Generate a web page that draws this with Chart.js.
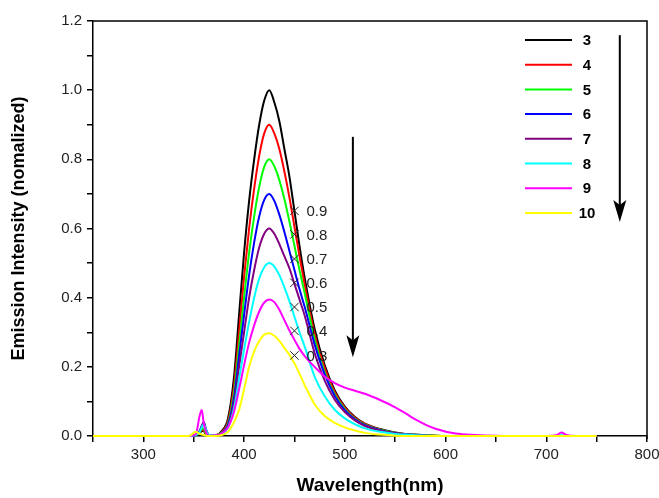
<!DOCTYPE html>
<html>
<head>
    <meta charset="UTF-8">
    <script src="https://cdn.jsdelivr.net/npm/chart.js@4.4.0/dist/chart.umd.min.js"></script>
    <style>
        body { margin: 0; background: #fff; }
    </style>
    <title>Emission spectra</title>
</head>
<body>
    <canvas id="spectra" width="659" height="498"></canvas>

    <script>
        // wavelength grid (nm) shared by every spectrum
        const wavelengths = [250, 345, 352, 356, 358, 360, 362, 365, 372, 378, 384, 390, 395, 400, 405, 410, 415, 420, 425,
            430, 435, 440, 445, 450, 455, 460, 470, 480, 490, 500, 510, 520, 535, 550, 560, 570, 580, 590, 610, 630, 650,
            700, 710, 715, 720, 730, 750];

        const s3 = [0, 0, 0.002, 0.008, 0.015, 0.014, 0.006, 0.001, 0.002, 0.015, 0.05, 0.17, 0.35, 0.53, 0.68, 0.80, 0.90, 0.97, 1.0,
            0.965, 0.91, 0.83, 0.75, 0.65, 0.55, 0.46, 0.31, 0.205, 0.132, 0.085, 0.055, 0.036, 0.02, 0.01, 0.006, 0.004, 0.002, 0.001, 0, 0, 0,
            0, 0, 0, 0, 0, 0];
        const s4 = [0, 0, 0.002, 0.01, 0.018, 0.016, 0.007, 0.001, 0.002, 0.012, 0.042, 0.145, 0.30, 0.46, 0.60, 0.715, 0.81, 0.875, 0.9,
            0.875, 0.83, 0.765, 0.69, 0.605, 0.52, 0.44, 0.295, 0.197, 0.127, 0.082, 0.053, 0.035, 0.019, 0.009, 0.006, 0.003, 0.002, 0.001, 0, 0, 0,
            0, 0, 0, 0, 0, 0];
        const s5 = [0, 0, 0.002, 0.012, 0.022, 0.02, 0.008, 0.001, 0.002, 0.01, 0.036, 0.125, 0.26, 0.40, 0.53, 0.635, 0.72, 0.778, 0.8,
            0.78, 0.74, 0.685, 0.62, 0.55, 0.48, 0.415, 0.28, 0.184, 0.12, 0.078, 0.05, 0.033, 0.018, 0.009, 0.005, 0.003, 0.002, 0.001, 0, 0, 0,
            0, 0, 0, 0, 0, 0];
        const s6 = [0, 0, 0.003, 0.015, 0.03, 0.04, 0.02, 0.003, 0.002, 0.009, 0.032, 0.11, 0.23, 0.35, 0.465, 0.56, 0.635, 0.683, 0.7,
            0.68, 0.64, 0.59, 0.535, 0.48, 0.425, 0.375, 0.265, 0.178, 0.116, 0.075, 0.048, 0.031, 0.017, 0.008, 0.005, 0.003, 0.001, 0, 0, 0, 0,
            0, 0, 0, 0, 0, 0];
        const s7 = [0, 0, 0.003, 0.014, 0.028, 0.038, 0.02, 0.003, 0.002, 0.008, 0.028, 0.095, 0.2, 0.3, 0.4, 0.48, 0.545, 0.585, 0.6,
            0.585, 0.555, 0.52, 0.485, 0.44, 0.395, 0.35, 0.24, 0.16, 0.105, 0.069, 0.045, 0.029, 0.016, 0.008, 0.004, 0.002, 0.001, 0, 0, 0, 0,
            0, 0, 0, 0, 0, 0];
        const s8 = [0, 0, 0.003, 0.012, 0.025, 0.035, 0.018, 0.003, 0.002, 0.007, 0.024, 0.08, 0.165, 0.25, 0.33, 0.4, 0.455, 0.488, 0.5,
            0.49, 0.465, 0.43, 0.39, 0.345, 0.3, 0.26, 0.172, 0.115, 0.076, 0.051, 0.034, 0.022, 0.012, 0.006, 0.004, 0.002, 0.001, 0, 0, 0, 0,
            0, 0, 0.003, 0, 0, 0];
        const s9 = [0, 0, 0.005, 0.06, 0.075, 0.035, 0.012, 0.001, 0.002, 0.008, 0.025, 0.07, 0.135, 0.205, 0.27, 0.32, 0.36, 0.386, 0.395,
            0.387, 0.365, 0.335, 0.305, 0.278, 0.252, 0.232, 0.2, 0.172, 0.153, 0.14, 0.131, 0.122, 0.104, 0.083, 0.066, 0.048, 0.033, 0.021, 0.007, 0.003, 0.001,
            0, 0.002, 0.01, 0.003, 0, 0];
        const s10 = [0, 0, 0.012, 0.006, 0.004, 0.003, 0.001, 0, 0, 0.003, 0.012, 0.04, 0.075, 0.135, 0.2, 0.245, 0.275, 0.293, 0.297,
            0.29, 0.275, 0.255, 0.235, 0.21, 0.18, 0.148, 0.092, 0.058, 0.038, 0.025, 0.016, 0.009, 0.004, 0.001, 0, 0, 0, 0, 0, 0, 0,
            0, 0, 0, 0, 0, 0];

        const seriesNames = ['3', '4', '5', '6', '7', '8', '9', '10'];
        const seriesValues = [s3, s4, s5, s6, s7, s8, s9, s10];
        const seriesColors = ['#000000', '#ff0000', '#00ff00', '#0000ff', '#800080', '#00ffff', '#ff00ff', '#ffff00'];

        // the "x" marks with their labels
        const markerX = [450, 450, 450, 450, 450, 450, 450];
        const markerY = [0.651, 0.583, 0.512, 0.443, 0.373, 0.304, 0.233];
        const markerLabels = ['0.9', '0.8', '0.7', '0.6', '0.5', '0.4', '0.3'];

        // arrows (data coordinates): one in the plot, one next to the legend
        const arrowX = [508, 773];
        const arrowFrom = [0.865, 1.159];
        const arrowTo = [0.228, 0.619];

        const FONT = 'Arial, "Liberation Sans", sans-serif';

        const datasets = seriesValues.map((vals, i) => ({
            label: seriesNames[i],
            data: wavelengths.map((w, j) => ({ x: w, y: vals[j] })),
            borderColor: seriesColors[i],
            borderWidth: 2,
            pointRadius: 0,
            fill: false,
            clip: 4,
            cubicInterpolationMode: 'monotone',
            order: seriesValues.length - i
        }));

        datasets.push({
            label: 'marks',
            data: markerX.map((x, i) => ({ x: x, y: markerY[i] })),
            showLine: false,
            pointStyle: 'crossRot',
            pointRadius: 6,
            borderWidth: 1,
            borderColor: '#222',
            order: -1
        });

        const extras = {
            id: 'extras',
            afterDatasetsDraw(chart) {
                const { ctx, chartArea, scales } = chart;
                ctx.save();

                // frame (top & right)
                ctx.strokeStyle = '#000';
                ctx.lineWidth = 1.5;
                ctx.beginPath();
                ctx.moveTo(chartArea.left, chartArea.top);
                ctx.lineTo(chartArea.right, chartArea.top);
                ctx.lineTo(chartArea.right, chartArea.bottom + 3);
                ctx.stroke();

                // marker labels
                const meta = chart.getDatasetMeta(chart.data.datasets.length - 1);
                ctx.fillStyle = '#222';
                ctx.font = '15px ' + FONT;
                ctx.textAlign = 'left';
                ctx.textBaseline = 'middle';
                meta.data.forEach((pt, i) => {
                    ctx.fillText(markerLabels[i], pt.x + 12, pt.y + 1);
                });

                // arrows
                ctx.fillStyle = '#000';
                ctx.strokeStyle = '#000';
                ctx.lineWidth = 2;
                arrowX.forEach((ax, i) => {
                    const x = scales.x.getPixelForValue(ax);
                    const y1 = scales.y.getPixelForValue(arrowFrom[i]);
                    const y2 = scales.y.getPixelForValue(arrowTo[i]);
                    ctx.beginPath();
                    ctx.moveTo(x, y1);
                    ctx.lineTo(x, y2 - 15);
                    ctx.stroke();
                    ctx.beginPath();
                    ctx.moveTo(x, y2);
                    ctx.lineTo(x - 6.5, y2 - 22);
                    ctx.lineTo(x, y2 - 17);
                    ctx.lineTo(x + 6.5, y2 - 22);
                    ctx.closePath();
                    ctx.fill();
                });

                // legend
                ctx.font = 'bold 15px ' + FONT;
                ctx.textAlign = 'center';
                seriesNames.forEach((name, i) => {
                    const y = chartArea.top + 19 + i * 24.7;
                    ctx.strokeStyle = seriesColors[i];
                    ctx.lineWidth = 2;
                    ctx.beginPath();
                    ctx.moveTo(chartArea.right - 122, y);
                    ctx.lineTo(chartArea.right - 75, y);
                    ctx.stroke();
                    ctx.fillStyle = '#000';
                    ctx.fillText(name, chartArea.right - 60, y + 1);
                });

                ctx.restore();
            }
        };

        new Chart(document.getElementById('spectra').getContext('2d'), {
            type: 'line',
            data: { datasets: datasets },
            plugins: [extras],
            options: {
                responsive: false,
                animation: false,
                devicePixelRatio: 1,
                layout: { padding: { top: 21, right: 12, left: 0, bottom: 0 } },
                plugins: {
                    legend: { display: false },
                    tooltip: { enabled: false }
                },
                scales: {
                    x: {
                        type: 'linear',
                        min: 250,
                        max: 800,
                        afterFit: (scale) => {
                            scale.height = 62;
                            scale.paddingRight = 0;
                            scale.paddingLeft = 0;
                        },
                        border: { display: true, color: '#000', width: 1.5 },
                        grid: { drawOnChartArea: false, drawTicks: true, tickLength: 6, color: '#000', lineWidth: 1.5 },
                        ticks: {
                            stepSize: 50,
                            padding: 4,
                            color: '#222',
                            font: { family: FONT, size: 15 },
                            maxRotation: 0,
                            autoSkip: false,
                            callback: (v) => (v % 100 === 0 ? String(v) : '')
                        },
                        title: {
                            display: true,
                            text: 'Wavelength(nm)',
                            color: '#000',
                            font: { family: FONT, size: 19, weight: 'bold' },
                            padding: { top: 0, bottom: 1 }
                        }
                    },
                    y: {
                        min: 0,
                        max: 1.2,
                        afterFit: (scale) => { scale.width = 93; },
                        border: { display: true, color: '#000', width: 1.5 },
                        grid: { drawOnChartArea: false, drawTicks: true, tickLength: 6, color: '#000', lineWidth: 1.5 },
                        ticks: {
                            stepSize: 0.1,
                            padding: 5,
                            color: '#222',
                            font: { family: FONT, size: 15 },
                            autoSkip: false,
                            callback: (v) => (Math.round(v * 10) % 2 === 0 ? v.toFixed(1) : '')
                        },
                        title: {
                            display: true,
                            text: 'Emission Intensity (nomalized)',
                            color: '#000',
                            font: { family: FONT, size: 18, weight: 'bold' },
                            padding: { top: 8, bottom: 0 }
                        }
                    }
                }
            }
        });
    </script>
</body>
</html>
